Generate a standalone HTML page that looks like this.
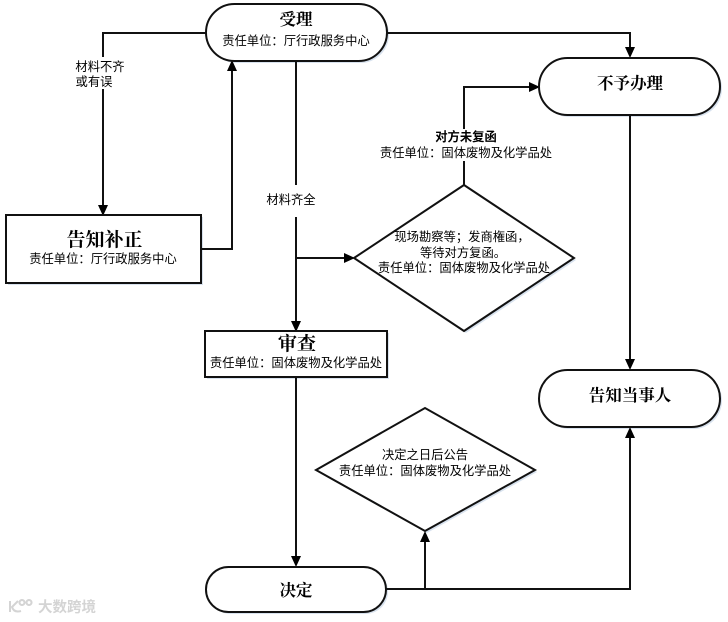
<!DOCTYPE html>
<html><head><meta charset="utf-8">
<style>
html,body{margin:0;padding:0;background:#fff}
svg{display:block}
.b{font-family:"Liberation Serif","Noto Serif CJK SC",serif;font-weight:700;fill:#000;text-anchor:middle}
.t{font-family:"Liberation Sans","Noto Sans CJK SC",sans-serif;font-size:12.3px;fill:#000;text-anchor:middle}
.s{fill:#fff;stroke:#111;stroke-width:2}
.l{fill:none;stroke:#111;stroke-width:2}
.a{fill:#000}
.sh{fill:#d8e2ee;stroke:none}
</style></head>
<body>
<svg xmlns="http://www.w3.org/2000/svg" width="728" height="622" viewBox="0 0 728 622">
<rect width="728" height="622" fill="#fff"/>
<!-- shadows -->
<g class="sh" transform="translate(2,2)">
<rect x="206" y="4" width="181" height="57" rx="28.5"/>
<rect x="539" y="58" width="181" height="57" rx="28.5"/>
<rect x="539" y="370" width="181" height="57" rx="28.5"/>
<rect x="206" y="567" width="180" height="45" rx="22.5"/>
<rect x="6" y="215" width="195" height="68"/>
<rect x="205" y="331" width="182" height="46"/>
<polygon points="354,258 464,185 574,258 464,331"/>
<polygon points="316,470 425,408 535,470 425,531"/>
</g>
<!-- connectors -->
<path class="l" d="M206 33H103V206"/>
<path class="l" d="M201 249H232V70"/>
<path class="l" d="M296 61V322"/>
<path class="l" d="M296 258H345"/>
<path class="l" d="M387 33H630V49"/>
<path class="l" d="M464 185V87H530"/>
<path class="l" d="M630 115V361"/>
<path class="l" d="M296 377V558"/>
<path class="l" d="M386 589H630V436"/>
<path class="l" d="M386 589H425V540"/>
<!-- arrowheads -->
<polygon class="a" points="98,205 108,205 103,216"/>
<polygon class="a" points="227,71 237,71 232,60"/>
<polygon class="a" points="291,321 301,321 296,332"/>
<polygon class="a" points="344,253 344,263 355,258"/>
<polygon class="a" points="625,47 635,47 630,58"/>
<polygon class="a" points="529,82 529,92 540,87"/>
<polygon class="a" points="625,359 635,359 630,370"/>
<polygon class="a" points="291,556 301,556 296,567"/>
<polygon class="a" points="625,438 635,438 630,427"/>
<polygon class="a" points="420,542 430,542 425,531"/>
<!-- nodes -->
<rect class="s" x="206" y="4" width="181" height="57" rx="28.5"/>
<rect class="s" x="539" y="58" width="181" height="57" rx="28.5"/>
<rect class="s" x="539" y="370" width="181" height="57" rx="28.5"/>
<rect class="s" x="206" y="567" width="180" height="45" rx="22.5"/>
<rect class="s" x="6" y="215" width="195" height="68"/>
<rect class="s" x="205" y="331" width="182" height="46"/>
<polygon class="s" points="354,258 464,185 574,258 464,331"/>
<polygon class="s" points="316,470 425,408 535,470 425,531"/>
<!-- label backgrounds -->
<rect x="75" y="57" width="51" height="32" fill="#fff"/>
<rect x="266" y="185" width="51" height="32" fill="#fff"/>
<rect x="379" y="129" width="174" height="32" fill="#fff"/>
<!-- text -->
<text class="b" x="296" y="25" font-size="16.5">受理</text>
<text class="t" x="296" y="45">责任单位：厅行政服务中心</text>
<text class="t" x="100" y="71">材料不齐</text>
<text class="t" x="94" y="86">或有误</text>
<text class="t" x="291" y="204">材料齐全</text>
<text class="b" x="104.500" y="246" font-size="19">告知补正</text>
<text class="t" x="103" y="263">责任单位：厅行政服务中心</text>
<text class="b" x="630" y="89" font-size="16.500">不予办理</text>
<text class="t" x="466" y="141" font-weight="700">对方未复函</text>
<text class="t" x="466" y="157">责任单位：固体废物及化学品处</text>
<text class="t" x="462" y="241">现场勘察等；发商権函，</text>
<text class="t" x="463" y="257">等待对方复函。</text>
<text class="t" x="464" y="272">责任单位：固体废物及化学品处</text>
<text class="b" x="297" y="350" font-size="19">审查</text>
<text class="t" x="296" y="367">责任单位：固体废物及化学品处</text>
<text class="b" x="630" y="401" font-size="16.500">告知当事人</text>
<text class="t" x="425" y="459">决定之日后公告</text>
<text class="t" x="425" y="475">责任单位：固体废物及化学品处</text>
<text class="b" x="296" y="596" font-size="16.500">决定</text>
<text x="38" y="612" font-family="'Liberation Sans','Noto Sans CJK SC',sans-serif" font-size="14.500" font-weight="700" fill="#d4d4d4">大数跨境</text>
<path d="M10 601V612M18 601L12 607Q14 613 21 611M22 600a2.500 2.500 0 1 0 .01 0M29 600a2.500 2.500 0 1 0 .01 0" fill="none" stroke="#d4d4d4" stroke-width="2"/>
</svg>
</body></html>
